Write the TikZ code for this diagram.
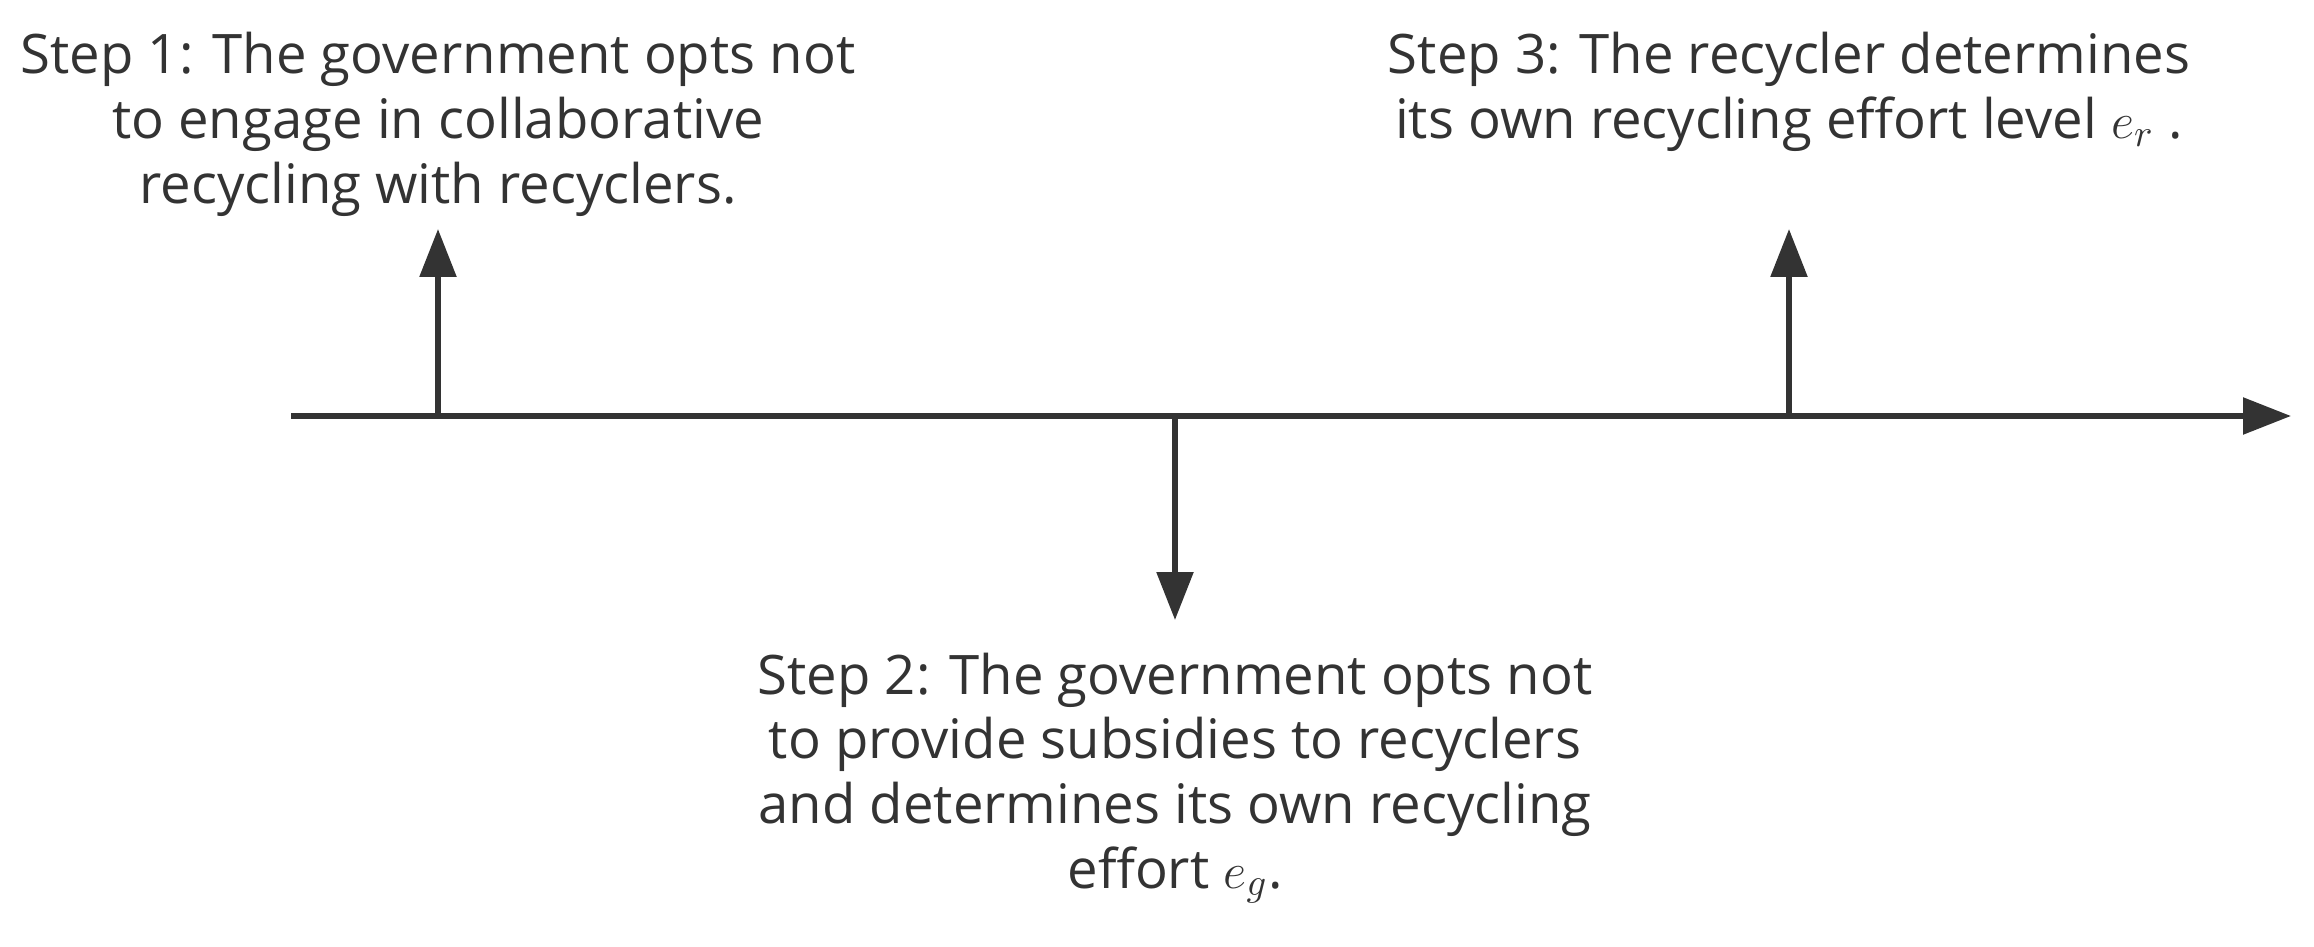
\documentclass[tikz,border=0pt]{standalone}
\usepackage{fontspec}
\setmainfont{Open Sans}
\usetikzlibrary{arrows.meta, positioning}
\definecolor{inkgray}{HTML}{333333}

\begin{document}
\begin{tikzpicture}[%
    >={Triangle[length=0.48cm,width=0.36cm]},
    line width=1.6pt,
    color=inkgray,
    node distance=0.1cm,
    steptext/.style={align=center, inner sep=0pt, font=\fontsize{15.5}{18.4}\selectfont}
  ]
  \useasboundingbox (0,0) rectangle (23.14,9.46);

  % time axis
  \coordinate (start) at (2.91,5.30);
  \coordinate (end) at (22.91,5.30);
  \coordinate (s1) at (4.38,5.30);
  \coordinate (s2) at (11.75,5.30);
  \coordinate (s3) at (17.89,5.30);
  \coordinate (tip1) at (4.38,7.17);
  \coordinate (tip2) at (11.75,3.26);
  \coordinate (tip3) at (17.89,7.17);

  \node[steptext] (step1) [above=of tip1]
    {Step 1: The government opts not\\ to engage in collaborative\\ recycling with recyclers.};
  \node[steptext] (step2) [below=0.3cm of tip2]
    {Step 2: The government opts not\\ to provide subsidies to recyclers\\ and determines its own recycling\\ effort $e_g$.};
  \node[steptext, anchor=north] (step3) at (tip3 |- step1.north)
    {Step 3: The recycler determines\\ its own recycling effort level $e_r$ .};

  \draw[->] (start) -- (end);
  \draw[->] (s1) -- (tip1);
  \draw[->] (s2) -- (tip2);
  \draw[->] (s3) -- (tip3);
\end{tikzpicture}
\end{document}
